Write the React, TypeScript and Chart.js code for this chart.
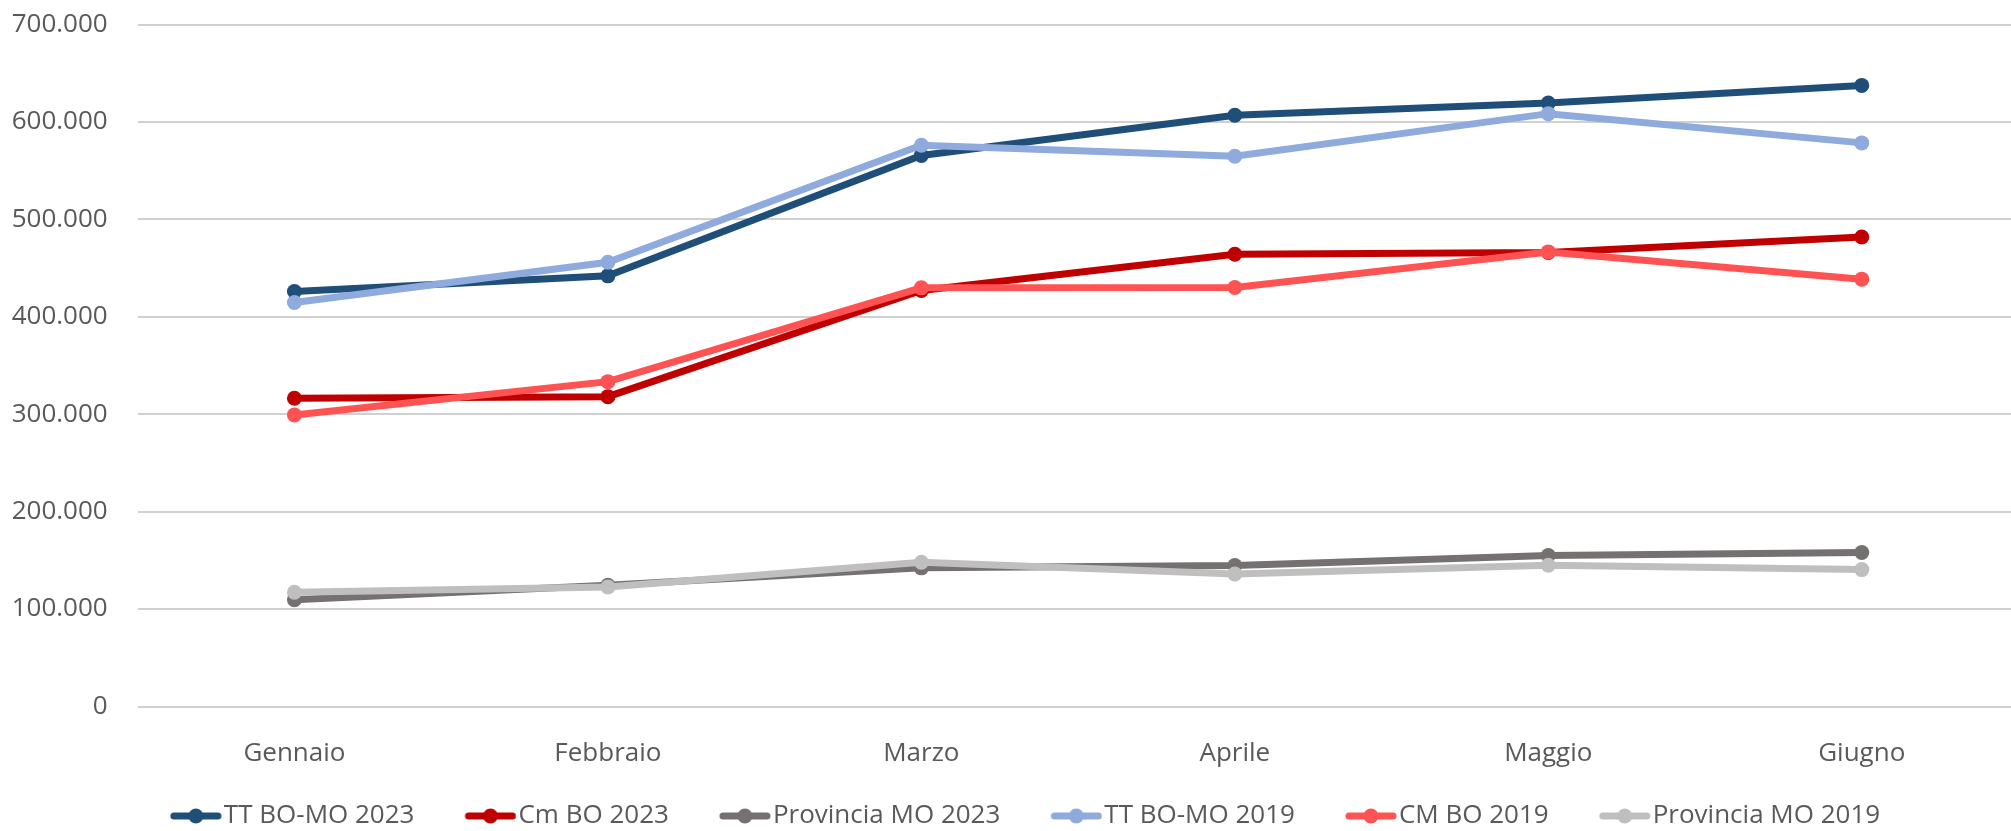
import React, { useEffect, useRef } from "react";
import { Chart, registerables } from "chart.js";

Chart.register(...registerables);

const categories = ["Gennaio", "Febbraio", "Marzo", "Aprile", "Maggio", "Giugno"];

const seriesLabels = [
  "TT BO-MO 2023",
  "Cm BO 2023",
  "Provincia MO 2023",
  "TT BO-MO 2019",
  "CM BO 2019",
  "Provincia MO 2019",
];

const ttBoMo2023 = [425900, 442000, 565500, 606800, 619500, 637500];
const cmBo2023 = [316400, 318000, 427000, 464200, 466000, 481900];
const provinciaMo2023 = [109600, 124400, 142300, 144700, 155000, 158000];
const ttBoMo2019 = [414700, 456000, 576000, 564800, 608500, 578500];
const cmBo2019 = [299300, 333400, 429700, 430000, 466600, 438600];
const provinciaMo2019 = [117200, 122700, 148000, 136000, 145000, 140500];

const seriesValues = [ttBoMo2023, cmBo2023, provinciaMo2023, ttBoMo2019, cmBo2019, provinciaMo2019];
const seriesColors = ["#1F4E79", "#C00000", "#767171", "#8FAADC", "#FF5353", "#BFBFBF"];
const seriesOrder = [1, 1, 1, 0, 0, 0];

const yMin = 0;
const yMax = 700000;
const yStep = 100000;

const FONT = "'Open Sans', 'Noto Sans', sans-serif";
const FONT_SIZE = 26;
const TEXT_COLOR = "#595959";
const LEGEND_DX = -5;

function formatIt(v: number): string {
  return String(Math.round(v)).replace(/\B(?=(\d{3})+(?!\d))/g, ".");
}

// legend icon: transparent margin on the left, line + marker on the right
function makeLegendIcon(color: string): HTMLCanvasElement {
  const c = document.createElement("canvas");
  const m = 37;
  c.width = m + 52;
  c.height = 20;
  const ctx = c.getContext("2d")!;
  ctx.strokeStyle = color;
  ctx.lineWidth = 7;
  ctx.lineCap = "round";
  ctx.beginPath();
  ctx.moveTo(m + 4, 10);
  ctx.lineTo(m + 48, 10);
  ctx.stroke();
  ctx.fillStyle = color;
  ctx.beginPath();
  ctx.arc(m + 26, 10, 7.5, 0, Math.PI * 2);
  ctx.fill();
  return c;
}

const legendShift = {
  id: "legendShift",
  afterLayout(chart: any) {
    const l = chart.legend;
    if (l) {
      l.left += LEGEND_DX;
      l.right += LEGEND_DX;
    }
  },
};

export default function App() {
  const canvasRef = useRef<HTMLCanvasElement | null>(null);

  useEffect(() => {
    const canvas = canvasRef.current;
    if (!canvas) return;
    const icons = seriesColors.map(makeLegendIcon);
    const chart = new Chart(canvas, {
      type: "line",
      data: {
        labels: categories,
        datasets: seriesLabels.map((label, i) => ({
          label,
          data: seriesValues[i],
          borderColor: seriesColors[i],
          backgroundColor: seriesColors[i],
          borderWidth: 7,
          pointRadius: 7.5,
          pointBorderWidth: 0,
          pointBackgroundColor: seriesColors[i],
          tension: 0,
          fill: false,
          order: seriesOrder[i],
        })),
      },
      options: {
        responsive: false,
        animation: false,
        devicePixelRatio: 1,
        layout: { padding: { top: 24.5, left: 8, right: 0, bottom: 0 } },
        plugins: {
          tooltip: { enabled: false },
          title: { display: false },
          legend: {
            display: true,
            position: "bottom",
            labels: {
              usePointStyle: true,
              pointStyleWidth: 67,
              padding: 24,
              color: TEXT_COLOR,
              font: { family: FONT, size: FONT_SIZE },
              generateLabels: (ch: any) =>
                ch.data.datasets.map((ds: any, i: number) => ({
                  text: ds.label,
                  fillStyle: seriesColors[i],
                  strokeStyle: seriesColors[i],
                  lineWidth: 0,
                  pointStyle: icons[i],
                  hidden: false,
                  datasetIndex: i,
                  fontColor: TEXT_COLOR,
                })),
            },
          },
        },
        scales: {
          x: {
            type: "category",
            offset: true,
            grid: { display: false, drawTicks: false },
            border: { display: false },
            ticks: {
              padding: 31,
              color: TEXT_COLOR,
              font: { family: FONT, size: FONT_SIZE },
              maxRotation: 0,
              autoSkip: false,
            },
            afterFit: (scale: any) => {
              scale.height = 72.5;
            },
          },
          y: {
            min: yMin,
            max: yMax,
            grid: {
              color: "#D0D0D0",
              lineWidth: 2,
              drawTicks: true,
              tickLength: 30,
              tickColor: "rgba(0,0,0,0)",
            },
            border: { display: false },
            ticks: {
              stepSize: yStep,
              padding: 0,
              color: TEXT_COLOR,
              font: { family: FONT, size: FONT_SIZE },
              callback: (v: any) => formatIt(Number(v)),
            },
            afterFit: (scale: any) => {
              scale.width = 129.7;
            },
          },
        },
      },
      plugins: [legendShift],
    });
    return () => chart.destroy();
  }, []);

  return (
    <div
      style={{
        position: "absolute",
        left: 0,
        top: 0,
        width: "2011px",
        height: "831px",
        overflow: "hidden",
        background: "#ffffff",
      }}
    >
      <canvas
        ref={canvasRef}
        width={2026}
        height={839}
        style={{ display: "block", width: "2026px", height: "839px" }}
      />
    </div>
  );
}
